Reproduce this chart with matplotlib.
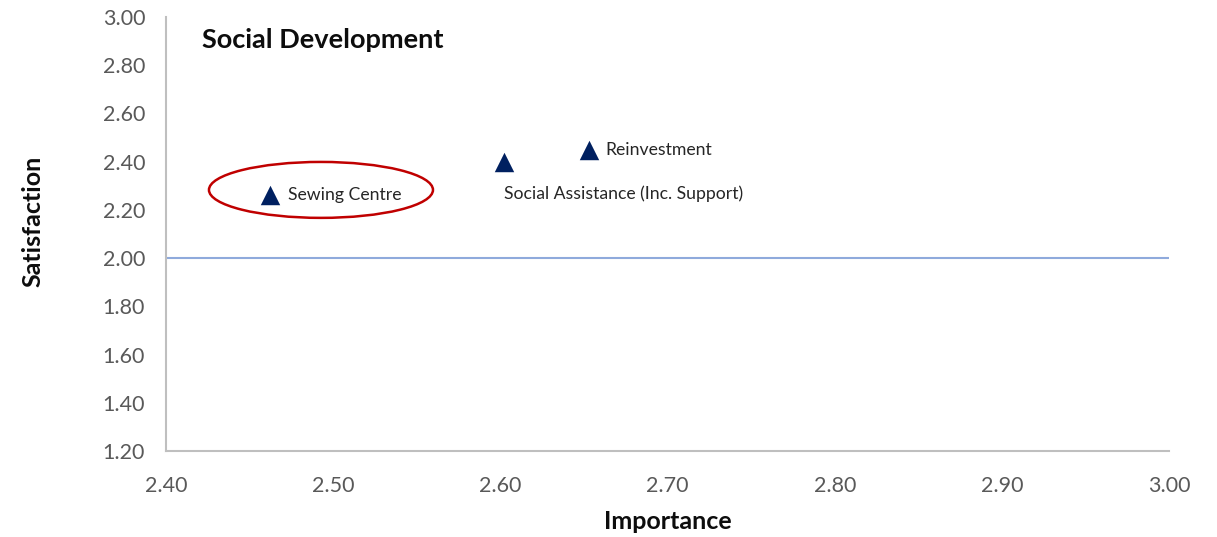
import matplotlib
matplotlib.use("Agg")
import matplotlib.pyplot as plt
from matplotlib.patches import Ellipse

plt.rcParams['font.family'] = ['Lato', 'DejaVu Sans']

# Services in the Social Development group
services = ["Sewing Centre", "Social Assistance (Inc. Support)", "Reinvestment"]
importance = [2.462, 2.602, 2.653]
satisfaction = [2.26, 2.40, 2.45]

x_ticks = [2.40, 2.50, 2.60, 2.70, 2.80, 2.90, 3.00]
y_ticks = [1.20, 1.40, 1.60, 1.80, 2.00, 2.20, 2.40, 2.60, 2.80, 3.00]
threshold = 2.00

fig = plt.figure(figsize=(12.17, 5.37), dpi=100)
ax = fig.add_axes([0.1364, 0.1601, 0.8242, 0.8082])

ax.set_xlim(2.40, 3.00)
ax.set_ylim(1.20, 3.00)

ax.axhline(threshold, color="#8FAADC", lw=1.5, zorder=1)

ax.scatter(importance, satisfaction, marker="^", s=14**2, color="#002060",
           zorder=3, linewidths=0)

# Label placement relative to each marker (points)
label_offsets = {
    "Sewing Centre": (13, 0),
    "Social Assistance (Inc. Support)": (0, -23),
    "Reinvestment": (12, 0),
}
for name, xv, yv in zip(services, importance, satisfaction):
    dx, dy = label_offsets[name]
    ax.annotate(name, (xv, yv), xytext=(dx, dy), textcoords="offset points",
                ha="left", va="center", fontsize=12.7, color="#262626")

# Highlight ring around the Sewing Centre point
ax.add_patch(Ellipse((2.4927, 2.283), width=0.134, height=0.232,
                     fill=False, edgecolor="#C00000", lw=1.8, zorder=4))

ax.text(0.036, 0.947, "Social Development", transform=ax.transAxes,
        fontsize=19.5, fontweight="bold", color="#0D0D0D", ha="left", va="center")

ax.set_xticks(x_ticks)
ax.set_xticklabels([f"{v:.2f}" for v in x_ticks])
ax.set_yticks(y_ticks)
ax.set_yticklabels([f"{v:.2f}" for v in y_ticks])
ax.tick_params(axis="both", length=0, labelsize=15.5, colors="#595959")
ax.tick_params(axis="x", pad=18)
ax.tick_params(axis="y", pad=15)

for side in ("top", "right"):
    ax.spines[side].set_visible(False)
for side in ("left", "bottom"):
    ax.spines[side].set_color("#BFBFBF")
    ax.spines[side].set_linewidth(1.5)

ax.set_xlabel("Importance", fontsize=18, fontweight="bold", color="#0D0D0D")
ax.set_ylabel("Satisfaction", fontsize=18, fontweight="bold", color="#0D0D0D")
ax.xaxis.set_label_coords(0.5, -0.163)
ax.xaxis.label.set_va("center")
ax.yaxis.set_label_coords(-0.133, 0.53)
ax.yaxis.label.set_va("center")

fig.savefig("out.png", dpi=100, facecolor="white")
